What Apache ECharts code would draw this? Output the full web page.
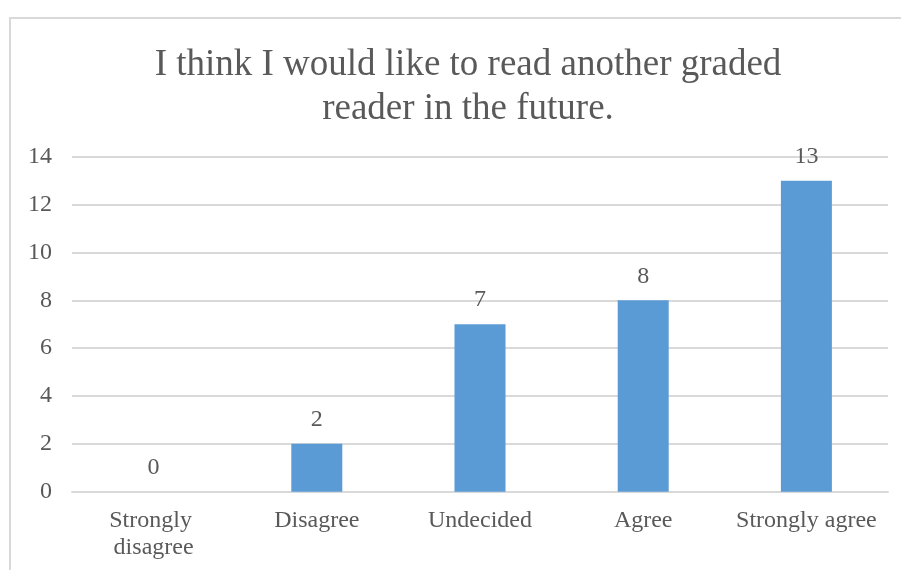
<!DOCTYPE html>
<html>
<head>
<meta charset="utf-8">
<style>
  html, body { margin: 0; padding: 0; background: #ffffff; }
  #chart { width: 901px; height: 570px; }
</style>
<script src="https://cdn.jsdelivr.net/npm/echarts@6/dist/echarts.min.js"></script>
</head>
<body>
<div id="chart"></div>
<script>
// Survey responses for the statement in the title
const categories = ['Strongly disagree', 'Disagree', 'Undecided', 'Agree', 'Strongly agree'];
const responses = [0, 2, 7, 8, 13];
const yTicks = { min: 0, max: 14, step: 2 };

const serif = "'Liberation Serif', 'Times New Roman', serif";
const textColor = '#595959';
const gridColor = '#d9d9d9';

const chart = echarts.init(document.getElementById('chart'), null, { renderer: 'canvas' });

chart.setOption({
  animation: false,
  backgroundColor: '#ffffff',
  title: {
    text: 'I think I would like to read another graded\nreader in the future.',
    left: 463,
    top: 38,
    textAlign: 'center',
    textStyle: {
      fontFamily: serif,
      fontSize: 37,
      fontWeight: 'normal',
      color: textColor,
      lineHeight: 44
    }
  },
  graphic: [{
    type: 'rect',
    shape: { x: 10, y: 18, width: 1000, height: 700 },
    style: { fill: 'none', stroke: gridColor, lineWidth: 2 },
    silent: true,
    z: -1
  }],
  grid: {
    left: 72,
    right: 13,
    top: 156.7,
    bottom: 78.3,
    containLabel: false
  },
  xAxis: {
    type: 'category',
    data: categories,
    axisLine: { show: true, lineStyle: { color: gridColor, width: 2 } },
    axisTick: { show: false },
    axisLabel: {
      fontFamily: serif,
      fontSize: 24,
      color: textColor,
      margin: 16,
      lineHeight: 27,
      width: 160,
      overflow: 'break',
      interval: 0
    }
  },
  yAxis: {
    type: 'value',
    min: yTicks.min,
    max: yTicks.max,
    interval: yTicks.step,
    axisLine: { show: false },
    axisTick: { show: false },
    splitLine: { lineStyle: { color: gridColor, width: 2 } },
    axisLabel: {
      fontFamily: serif,
      fontSize: 24,
      color: textColor,
      margin: 20
    }
  },
  series: [{
    type: 'bar',
    data: responses,
    barWidth: 51,
    itemStyle: { color: '#5b9bd5' },
    label: {
      show: true,
      position: 'top',
      distance: 12,
      fontFamily: serif,
      fontSize: 24,
      color: textColor
    }
  }]
});
</script>
</body>
</html>
